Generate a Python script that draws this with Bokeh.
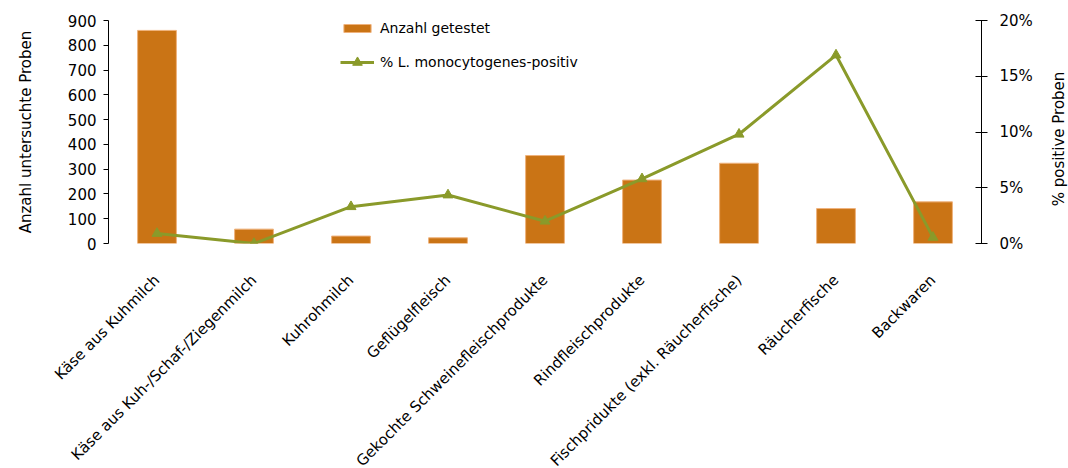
import math
from bokeh.plotting import figure
from bokeh.layouts import row
from bokeh.models import (FactorRange, Range1d, LinearAxis, FixedTicker,
                          PrintfTickFormatter, Legend, LegendItem, ColumnDataSource)
from bokeh.core.properties import value
from bokeh.embed import file_html
from bokeh.resources import INLINE

categories = [
    "Käse aus Kuhmilch",
    "Käse aus Kuh-/Schaf-/Ziegenmilch",
    "Kuhrohmilch",
    "Geflügelfleisch",
    "Gekochte Schweinefleischprodukte",
    "Rindfleischprodukte",
    "Fischpridukte (exkl. Räucherfische)",
    "Räucherfische",
    "Backwaren",
]
anzahl_getestet = [860, 58, 30, 23, 355, 256, 324, 141, 168]
prozent_positiv = [0.9, 0.0, 3.3, 4.35, 2.0, 5.8, 9.8, 16.9, 0.55]
left_ticks = [0, 100, 200, 300, 400, 500, 600, 700, 800, 900]
right_ticks = [0, 5, 10, 15, 20]
right_title = "% positive Proben"

FONT = "DejaVu Sans"
BAR = "#CA7415"
LINE = "#8A9A2A"

src = ColumnDataSource(dict(cat=categories, n=anzahl_getestet, pct=prozent_positiv))

p = figure(x_range=FactorRange(*categories), y_range=Range1d(0, 900),
           frame_width=873, frame_height=223,
           min_border_left=108, min_border_top=20, min_border_bottom=215,
           min_border_right=68,
           output_backend="svg", toolbar_location=None)
p.extra_y_ranges = {"pct": Range1d(0, 20)}
p.outline_line_color = None
p.xgrid.visible = False
p.ygrid.visible = False

bars = p.vbar(x="cat", top="n", width=0.4, source=src, fill_color=BAR,
              line_color="#EFB27C", line_width=1)
line = p.line(x="cat", y="pct", source=src, y_range_name="pct",
              line_color=LINE, line_width=3)
pts = p.scatter(x="cat", y="pct", source=src, y_range_name="pct",
                marker="triangle", size=10, fill_color=LINE, line_color=LINE)

# x axis
xa = p.xaxis[0]
xa.axis_line_color = None
xa.major_tick_line_color = None
xa.minor_tick_line_color = None
xa.major_label_orientation = math.pi / 4
xa.major_label_text_font = FONT
xa.major_label_text_font_size = "15px"
xa.major_label_text_color = "black"
xa.major_label_standoff = 28

# left axis
ya = p.yaxis[0]
ya.ticker = FixedTicker(ticks=left_ticks)
ya.axis_label = "Anzahl untersuchte Proben"
ya.axis_label_text_font = FONT
ya.axis_label_text_font_size = "15px"
ya.axis_label_text_font_style = "normal"
ya.axis_label_text_color = "black"
ya.axis_label_standoff = 30
ya.major_label_text_font = FONT
ya.major_label_text_font_size = "15px"
ya.major_label_text_color = "black"
ya.major_tick_in = 0
ya.major_tick_out = 5
ya.minor_tick_line_color = None
ya.axis_line_color = "black"
ya.major_tick_line_color = "black"
ya.major_label_standoff = 7

# right axis
ra = LinearAxis(y_range_name="pct", ticker=FixedTicker(ticks=right_ticks),
                formatter=PrintfTickFormatter(format="%d%%"))
ra.major_label_text_font = FONT
ra.major_label_text_font_size = "15px"
ra.major_label_text_color = "black"
ra.major_tick_in = 6
ra.major_tick_out = 6
ra.minor_tick_line_color = None
ra.axis_line_color = "black"
ra.major_tick_line_color = "black"
ra.major_label_standoff = 12
p.add_layout(ra, "right")

legend_bar = Legend(items=[LegendItem(label="Anzahl getestet", renderers=[bars])],
                    location=(232, 205), border_line_color=None,
                    background_fill_alpha=0, padding=0, margin=0,
                    glyph_width=34, glyph_height=10, label_height=20,
                    label_standoff=6, label_text_font=FONT,
                    label_text_font_size="14px", label_text_color="black")
legend_line = Legend(items=[LegendItem(label="% L. monocytogenes-positiv",
                                       renderers=[line, pts])],
                     location=(232, 169), border_line_color=None,
                     background_fill_alpha=0, padding=0, margin=0,
                     glyph_width=34, glyph_height=24, label_height=20,
                     label_standoff=6, label_text_font=FONT,
                     label_text_font_size="14px", label_text_color="black")
p.add_layout(legend_bar)
p.add_layout(legend_line)

# narrow strip on the right holding the right-axis title (reads bottom to top)
H2 = 263
t = figure(frame_width=19, frame_height=H2, x_range=Range1d(0, 19),
           y_range=Range1d(0, H2), title=None,
           x_axis_location=None, y_axis_location=None,
           min_border=0, min_border_left=0, min_border_right=0,
           min_border_top=0, min_border_bottom=0,
           output_backend="svg", toolbar_location=None)
t.grid.visible = False
t.outline_line_color = None
t.text(x=[9.5], y=[H2 - 118.5], text=[right_title], angle=math.pi / 2,
       text_align="center", text_baseline="middle",
       text_font=value(FONT), text_font_size="15px", text_color="black")

layout = row(p, t)
open("out.html", "w").write(file_html(layout, INLINE))
